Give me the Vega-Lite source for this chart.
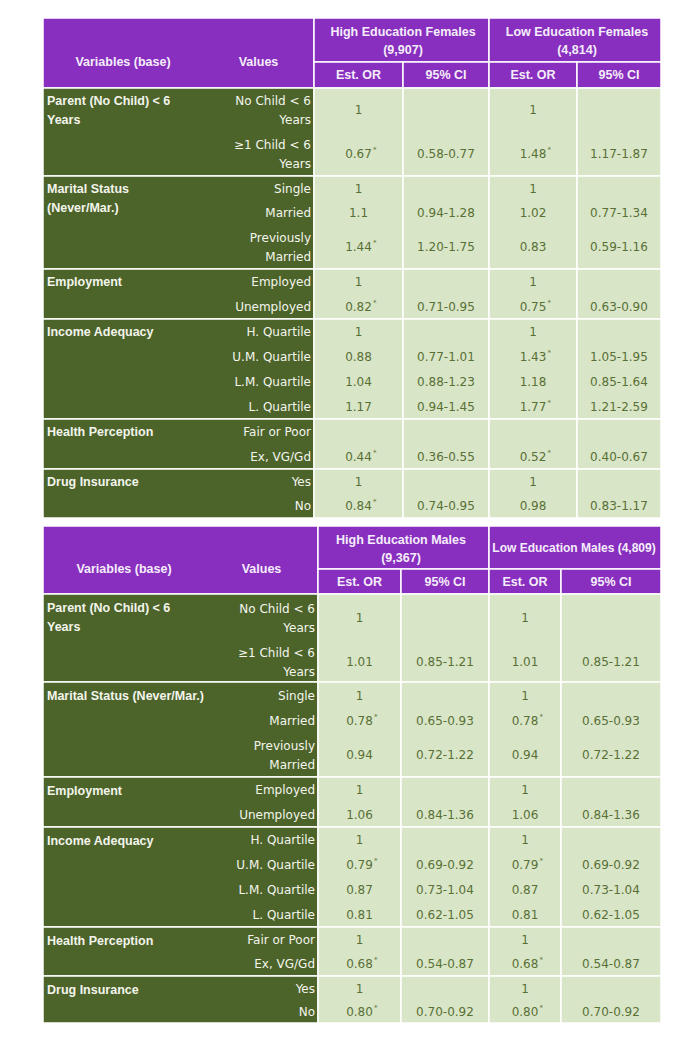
{
  "$schema": "https://vega.github.io/schema/vega-lite/v6.json",
  "background": "#ffffff",
  "padding": {"left": 42, "top": 17, "right": 25, "bottom": 22},
  "spacing": 8,
  "bounds": "flush",
  "config": {"view": {"stroke": null}},
  "datasets": {
    "cells": [
      {"k": "head", "c": 0, "c2": 4, "r": 0, "r2": 4},
      {"k": "head", "c": 4, "c2": 8, "r": 0, "r2": 2},
      {"k": "head", "c": 8, "c2": 12, "r": 0, "r2": 2},
      {"k": "head", "c": 4, "c2": 6, "r": 2, "r2": 4},
      {"k": "head", "c": 6, "c2": 8, "r": 2, "r2": 4},
      {"k": "head", "c": 8, "c2": 10, "r": 2, "r2": 4},
      {"k": "head", "c": 10, "c2": 12, "r": 2, "r2": 4},
      {"k": "label", "c": 0, "c2": 4, "r": 4, "r2": 8},
      {"k": "label", "c": 0, "c2": 4, "r": 8, "r2": 14},
      {"k": "label", "c": 0, "c2": 4, "r": 14, "r2": 18},
      {"k": "label", "c": 0, "c2": 4, "r": 18, "r2": 26},
      {"k": "label", "c": 0, "c2": 4, "r": 26, "r2": 30},
      {"k": "label", "c": 0, "c2": 4, "r": 30, "r2": 34},
      {"k": "body", "c": 4, "c2": 6, "r": 4, "r2": 8},
      {"k": "body", "c": 6, "c2": 8, "r": 4, "r2": 8},
      {"k": "body", "c": 8, "c2": 10, "r": 4, "r2": 8},
      {"k": "body", "c": 10, "c2": 12, "r": 4, "r2": 8},
      {"k": "body", "c": 4, "c2": 6, "r": 8, "r2": 14},
      {"k": "body", "c": 6, "c2": 8, "r": 8, "r2": 14},
      {"k": "body", "c": 8, "c2": 10, "r": 8, "r2": 14},
      {"k": "body", "c": 10, "c2": 12, "r": 8, "r2": 14},
      {"k": "body", "c": 4, "c2": 6, "r": 14, "r2": 18},
      {"k": "body", "c": 6, "c2": 8, "r": 14, "r2": 18},
      {"k": "body", "c": 8, "c2": 10, "r": 14, "r2": 18},
      {"k": "body", "c": 10, "c2": 12, "r": 14, "r2": 18},
      {"k": "body", "c": 4, "c2": 6, "r": 18, "r2": 26},
      {"k": "body", "c": 6, "c2": 8, "r": 18, "r2": 26},
      {"k": "body", "c": 8, "c2": 10, "r": 18, "r2": 26},
      {"k": "body", "c": 10, "c2": 12, "r": 18, "r2": 26},
      {"k": "body", "c": 4, "c2": 6, "r": 26, "r2": 30},
      {"k": "body", "c": 6, "c2": 8, "r": 26, "r2": 30},
      {"k": "body", "c": 8, "c2": 10, "r": 26, "r2": 30},
      {"k": "body", "c": 10, "c2": 12, "r": 26, "r2": 30},
      {"k": "body", "c": 4, "c2": 6, "r": 30, "r2": 34},
      {"k": "body", "c": 6, "c2": 8, "r": 30, "r2": 34},
      {"k": "body", "c": 8, "c2": 10, "r": 30, "r2": 34},
      {"k": "body", "c": 10, "c2": 12, "r": 30, "r2": 34}
    ],
    "vals": [
      {"k": "two", "c": 4, "r": 5, "s": "No Child < 6\nYears"},
      {"k": "two", "c": 4, "r": 7, "s": "≥1 Child < 6\nYears"},
      {"k": "one", "c": 4, "r": 9, "s": "Single"},
      {"k": "one", "c": 4, "r": 11, "s": "Married"},
      {"k": "two", "c": 4, "r": 13, "s": "Previously\nMarried"},
      {"k": "one", "c": 4, "r": 15, "s": "Employed"},
      {"k": "one", "c": 4, "r": 17, "s": "Unemployed"},
      {"k": "one", "c": 4, "r": 19, "s": "H. Quartile"},
      {"k": "one", "c": 4, "r": 21, "s": "U.M. Quartile"},
      {"k": "one", "c": 4, "r": 23, "s": "L.M. Quartile"},
      {"k": "one", "c": 4, "r": 25, "s": "L. Quartile"},
      {"k": "one", "c": 4, "r": 27, "s": "Fair or Poor"},
      {"k": "one", "c": 4, "r": 29, "s": "Ex, VG/Gd"},
      {"k": "one", "c": 4, "r": 31, "s": "Yes"},
      {"k": "one", "c": 4, "r": 33, "s": "No"}
    ],
    "texts": [
      {"t": "F", "k": "head", "c": 1, "r": 2, "s": "Variables (base)"},
      {"t": "F", "k": "head", "c": 3, "r": 2, "s": "Values"},
      {"t": "F", "k": "head2", "c": 6, "r": 1, "s": "High Education Females\n(9,907)"},
      {"t": "F", "k": "head2", "c": 10, "r": 1, "s": "Low Education Females\n(4,814)"},
      {"t": "F", "k": "head", "c": 5, "r": 3, "s": "Est. OR"},
      {"t": "F", "k": "head", "c": 7, "r": 3, "s": "95% CI"},
      {"t": "F", "k": "head", "c": 9, "r": 3, "s": "Est. OR"},
      {"t": "F", "k": "head", "c": 11, "r": 3, "s": "95% CI"},
      {"t": "F", "k": "grp", "c": 0, "r": 4, "s": "Parent (No Child) < 6\nYears"},
      {"t": "F", "k": "grp", "c": 0, "r": 8, "s": "Marital Status\n(Never/Mar.)"},
      {"t": "F", "k": "grp", "c": 0, "r": 14, "s": "Employment"},
      {"t": "F", "k": "grp", "c": 0, "r": 18, "s": "Income Adequacy"},
      {"t": "F", "k": "grp", "c": 0, "r": 26, "s": "Health Perception"},
      {"t": "F", "k": "grp", "c": 0, "r": 30, "s": "Drug Insurance"},
      {"t": "F", "k": "num", "c": 5, "r": 5, "s": "1"},
      {"t": "F", "k": "num", "c": 9, "r": 5, "s": "1"},
      {"t": "F", "k": "num", "c": 5, "r": 7, "s": "0.67", "sig": "*"},
      {"t": "F", "k": "num", "c": 7, "r": 7, "s": "0.58-0.77"},
      {"t": "F", "k": "num", "c": 9, "r": 7, "s": "1.48", "sig": "*"},
      {"t": "F", "k": "num", "c": 11, "r": 7, "s": "1.17-1.87"},
      {"t": "F", "k": "num", "c": 5, "r": 9, "s": "1"},
      {"t": "F", "k": "num", "c": 9, "r": 9, "s": "1"},
      {"t": "F", "k": "num", "c": 5, "r": 11, "s": "1.1"},
      {"t": "F", "k": "num", "c": 7, "r": 11, "s": "0.94-1.28"},
      {"t": "F", "k": "num", "c": 9, "r": 11, "s": "1.02"},
      {"t": "F", "k": "num", "c": 11, "r": 11, "s": "0.77-1.34"},
      {"t": "F", "k": "num", "c": 5, "r": 13, "s": "1.44", "sig": "*"},
      {"t": "F", "k": "num", "c": 7, "r": 13, "s": "1.20-1.75"},
      {"t": "F", "k": "num", "c": 9, "r": 13, "s": "0.83"},
      {"t": "F", "k": "num", "c": 11, "r": 13, "s": "0.59-1.16"},
      {"t": "F", "k": "num", "c": 5, "r": 15, "s": "1"},
      {"t": "F", "k": "num", "c": 9, "r": 15, "s": "1"},
      {"t": "F", "k": "num", "c": 5, "r": 17, "s": "0.82", "sig": "*"},
      {"t": "F", "k": "num", "c": 7, "r": 17, "s": "0.71-0.95"},
      {"t": "F", "k": "num", "c": 9, "r": 17, "s": "0.75", "sig": "*"},
      {"t": "F", "k": "num", "c": 11, "r": 17, "s": "0.63-0.90"},
      {"t": "F", "k": "num", "c": 5, "r": 19, "s": "1"},
      {"t": "F", "k": "num", "c": 9, "r": 19, "s": "1"},
      {"t": "F", "k": "num", "c": 5, "r": 21, "s": "0.88"},
      {"t": "F", "k": "num", "c": 7, "r": 21, "s": "0.77-1.01"},
      {"t": "F", "k": "num", "c": 9, "r": 21, "s": "1.43", "sig": "*"},
      {"t": "F", "k": "num", "c": 11, "r": 21, "s": "1.05-1.95"},
      {"t": "F", "k": "num", "c": 5, "r": 23, "s": "1.04"},
      {"t": "F", "k": "num", "c": 7, "r": 23, "s": "0.88-1.23"},
      {"t": "F", "k": "num", "c": 9, "r": 23, "s": "1.18"},
      {"t": "F", "k": "num", "c": 11, "r": 23, "s": "0.85-1.64"},
      {"t": "F", "k": "num", "c": 5, "r": 25, "s": "1.17"},
      {"t": "F", "k": "num", "c": 7, "r": 25, "s": "0.94-1.45"},
      {"t": "F", "k": "num", "c": 9, "r": 25, "s": "1.77", "sig": "*"},
      {"t": "F", "k": "num", "c": 11, "r": 25, "s": "1.21-2.59"},
      {"t": "F", "k": "num", "c": 5, "r": 29, "s": "0.44", "sig": "*"},
      {"t": "F", "k": "num", "c": 7, "r": 29, "s": "0.36-0.55"},
      {"t": "F", "k": "num", "c": 9, "r": 29, "s": "0.52", "sig": "*"},
      {"t": "F", "k": "num", "c": 11, "r": 29, "s": "0.40-0.67"},
      {"t": "F", "k": "num", "c": 5, "r": 31, "s": "1"},
      {"t": "F", "k": "num", "c": 9, "r": 31, "s": "1"},
      {"t": "F", "k": "num", "c": 5, "r": 33, "s": "0.84", "sig": "*"},
      {"t": "F", "k": "num", "c": 7, "r": 33, "s": "0.74-0.95"},
      {"t": "F", "k": "num", "c": 9, "r": 33, "s": "0.98"},
      {"t": "F", "k": "num", "c": 11, "r": 33, "s": "0.83-1.17"},

      {"t": "M", "k": "head", "c": 1, "r": 2, "s": "Variables (base)"},
      {"t": "M", "k": "head", "c": 3, "r": 2, "s": "Values"},
      {"t": "M", "k": "head2", "c": 6, "r": 1, "s": "High Education Males\n(9,367)"},
      {"t": "M", "k": "headw", "c": 10, "r": 1, "s": "Low Education Males (4,809)"},
      {"t": "M", "k": "head", "c": 5, "r": 3, "s": "Est. OR"},
      {"t": "M", "k": "head", "c": 7, "r": 3, "s": "95% CI"},
      {"t": "M", "k": "head", "c": 9, "r": 3, "s": "Est. OR"},
      {"t": "M", "k": "head", "c": 11, "r": 3, "s": "95% CI"},
      {"t": "M", "k": "grp", "c": 0, "r": 4, "s": "Parent (No Child) < 6\nYears"},
      {"t": "M", "k": "grp", "c": 0, "r": 8, "s": "Marital Status (Never/Mar.)"},
      {"t": "M", "k": "grp", "c": 0, "r": 14, "s": "Employment"},
      {"t": "M", "k": "grp", "c": 0, "r": 18, "s": "Income Adequacy"},
      {"t": "M", "k": "grp", "c": 0, "r": 26, "s": "Health Perception"},
      {"t": "M", "k": "grp", "c": 0, "r": 30, "s": "Drug Insurance"},
      {"t": "M", "k": "num", "c": 5, "r": 5, "s": "1"},
      {"t": "M", "k": "num", "c": 9, "r": 5, "s": "1"},
      {"t": "M", "k": "num", "c": 5, "r": 7, "s": "1.01"},
      {"t": "M", "k": "num", "c": 7, "r": 7, "s": "0.85-1.21"},
      {"t": "M", "k": "num", "c": 9, "r": 7, "s": "1.01"},
      {"t": "M", "k": "num", "c": 11, "r": 7, "s": "0.85-1.21"},
      {"t": "M", "k": "num", "c": 5, "r": 9, "s": "1"},
      {"t": "M", "k": "num", "c": 9, "r": 9, "s": "1"},
      {"t": "M", "k": "num", "c": 5, "r": 11, "s": "0.78", "sig": "*"},
      {"t": "M", "k": "num", "c": 7, "r": 11, "s": "0.65-0.93"},
      {"t": "M", "k": "num", "c": 9, "r": 11, "s": "0.78", "sig": "*"},
      {"t": "M", "k": "num", "c": 11, "r": 11, "s": "0.65-0.93"},
      {"t": "M", "k": "num", "c": 5, "r": 13, "s": "0.94"},
      {"t": "M", "k": "num", "c": 7, "r": 13, "s": "0.72-1.22"},
      {"t": "M", "k": "num", "c": 9, "r": 13, "s": "0.94"},
      {"t": "M", "k": "num", "c": 11, "r": 13, "s": "0.72-1.22"},
      {"t": "M", "k": "num", "c": 5, "r": 15, "s": "1"},
      {"t": "M", "k": "num", "c": 9, "r": 15, "s": "1"},
      {"t": "M", "k": "num", "c": 5, "r": 17, "s": "1.06"},
      {"t": "M", "k": "num", "c": 7, "r": 17, "s": "0.84-1.36"},
      {"t": "M", "k": "num", "c": 9, "r": 17, "s": "1.06"},
      {"t": "M", "k": "num", "c": 11, "r": 17, "s": "0.84-1.36"},
      {"t": "M", "k": "num", "c": 5, "r": 19, "s": "1"},
      {"t": "M", "k": "num", "c": 9, "r": 19, "s": "1"},
      {"t": "M", "k": "num", "c": 5, "r": 21, "s": "0.79", "sig": "*"},
      {"t": "M", "k": "num", "c": 7, "r": 21, "s": "0.69-0.92"},
      {"t": "M", "k": "num", "c": 9, "r": 21, "s": "0.79", "sig": "*"},
      {"t": "M", "k": "num", "c": 11, "r": 21, "s": "0.69-0.92"},
      {"t": "M", "k": "num", "c": 5, "r": 23, "s": "0.87"},
      {"t": "M", "k": "num", "c": 7, "r": 23, "s": "0.73-1.04"},
      {"t": "M", "k": "num", "c": 9, "r": 23, "s": "0.87"},
      {"t": "M", "k": "num", "c": 11, "r": 23, "s": "0.73-1.04"},
      {"t": "M", "k": "num", "c": 5, "r": 25, "s": "0.81"},
      {"t": "M", "k": "num", "c": 7, "r": 25, "s": "0.62-1.05"},
      {"t": "M", "k": "num", "c": 9, "r": 25, "s": "0.81"},
      {"t": "M", "k": "num", "c": 11, "r": 25, "s": "0.62-1.05"},
      {"t": "M", "k": "num", "c": 5, "r": 27, "s": "1"},
      {"t": "M", "k": "num", "c": 9, "r": 27, "s": "1"},
      {"t": "M", "k": "num", "c": 5, "r": 29, "s": "0.68", "sig": "*"},
      {"t": "M", "k": "num", "c": 7, "r": 29, "s": "0.54-0.87"},
      {"t": "M", "k": "num", "c": 9, "r": 29, "s": "0.68", "sig": "*"},
      {"t": "M", "k": "num", "c": 11, "r": 29, "s": "0.54-0.87"},
      {"t": "M", "k": "num", "c": 5, "r": 31, "s": "1"},
      {"t": "M", "k": "num", "c": 9, "r": 31, "s": "1"},
      {"t": "M", "k": "num", "c": 5, "r": 33, "s": "0.80", "sig": "*"},
      {"t": "M", "k": "num", "c": 7, "r": 33, "s": "0.70-0.92"},
      {"t": "M", "k": "num", "c": 9, "r": 33, "s": "0.80", "sig": "*"},
      {"t": "M", "k": "num", "c": 11, "r": 33, "s": "0.70-0.92"}
    ]
  },
  "vconcat": [
    {
      "width": 618,
      "height": 500,
      "encoding": {
        "x": {"field": "c", "type": "quantitative", "axis": null,
              "scale": {"type": "linear", "nice": false, "zero": false, "domain": [0, 2, 4, 6, 8, 10, 12], "range": [0, 160, 271, 360, 446, 534, 618]}},
        "y": {"field": "r", "type": "quantitative", "axis": null,
              "scale": {"type": "linear", "nice": false, "zero": false, "domain": [0, 2, 4, 6, 8, 10, 12, 14, 16, 18, 20, 22, 24, 26, 28, 30, 32, 34], "range": [0, 44, 70, 114, 158, 183, 207, 251, 276, 301, 326, 351, 376, 401, 426, 451, 476, 500]}}
      },
      "layer": [
        {"data": {"name": "cells"},
         "mark": {"type": "rect", "stroke": "#ffffff", "strokeWidth": 1.5},
         "encoding": {"x2": {"field": "c2"}, "y2": {"field": "r2"},
           "color": {"field": "k", "type": "nominal", "legend": null, "scale": {"domain": ["head", "label", "body"], "range": ["#882FBF", "#4C632A", "#D8E5C7"]}}}},
        {"data": {"name": "texts"}, "transform": [{"filter": "datum.t === 'F' && datum.k === 'head'"}],
         "mark": {"type": "text", "font": "Liberation Sans", "fontWeight": "bold", "fontSize": 12.5, "color": "#F5EDFA", "align": "center", "baseline": "middle"},
         "encoding": {"text": {"field": "s"}}},
        {"data": {"name": "texts"}, "transform": [{"filter": "datum.t === 'F' && datum.k === 'head2'"}],
         "mark": {"type": "text", "font": "Liberation Sans", "fontWeight": "bold", "fontSize": 12.5, "color": "#F5EDFA", "align": "center", "baseline": "middle", "dy": -8, "lineBreak": "\n", "lineHeight": 18},
         "encoding": {"text": {"field": "s"}}},
        {"data": {"name": "texts"}, "transform": [{"filter": "datum.t === 'F' && datum.k === 'grp'"}],
         "mark": {"type": "text", "font": "Liberation Sans", "fontWeight": "bold", "fontSize": 12.5, "color": "#F3F5EC", "align": "left", "baseline": "top", "dx": 4, "dy": 7, "lineBreak": "\n", "lineHeight": 19},
         "encoding": {"text": {"field": "s"}}},
        {"data": {"name": "vals"}, "transform": [{"filter": "datum.k === 'one'"}],
         "mark": {"type": "text", "font": "DejaVu Sans", "fontSize": 12, "color": "#F3F5EC", "align": "right", "baseline": "middle", "dx": -3},
         "encoding": {"text": {"field": "s"}}},
        {"data": {"name": "vals"}, "transform": [{"filter": "datum.k === 'two'"}],
         "mark": {"type": "text", "font": "DejaVu Sans", "fontSize": 12, "color": "#F3F5EC", "align": "right", "baseline": "middle", "dx": -3, "dy": -9.5, "lineBreak": "\n", "lineHeight": 19},
         "encoding": {"text": {"field": "s"}}},
        {"data": {"name": "texts"}, "transform": [{"filter": "datum.t === 'F' && datum.k === 'num'"}],
         "mark": {"type": "text", "font": "DejaVu Sans", "fontSize": 12, "color": "#587036", "align": "center", "baseline": "middle"},
         "encoding": {"text": {"field": "s"}}},
        {"data": {"name": "texts"}, "transform": [{"filter": "datum.t === 'F' && datum.sig === '*'"}],
         "mark": {"type": "text", "font": "DejaVu Sans", "fontSize": 7, "color": "#587036", "align": "left", "baseline": "middle", "dx": 14.5, "dy": -4},
         "encoding": {"text": {"field": "sig"}}}
      ]
    },
    {
      "width": 618,
      "height": 497,
      "encoding": {
        "x": {"field": "c", "type": "quantitative", "axis": null,
              "scale": {"type": "linear", "nice": false, "zero": false, "domain": [0, 2, 4, 6, 8, 10, 12], "range": [0, 162, 275, 358, 446, 518, 618]}},
        "y": {"field": "r", "type": "quantitative", "axis": null,
              "scale": {"type": "linear", "nice": false, "zero": false, "domain": [0, 2, 4, 6, 8, 10, 12, 14, 16, 18, 20, 22, 24, 26, 28, 30, 32, 34], "range": [0, 43, 68, 116, 156, 183, 207, 251, 276, 301, 326, 351, 376, 401, 426, 450, 475, 497]}}
      },
      "layer": [
        {"data": {"name": "cells"},
         "mark": {"type": "rect", "stroke": "#ffffff", "strokeWidth": 1.5},
         "encoding": {"x2": {"field": "c2"}, "y2": {"field": "r2"},
           "color": {"field": "k", "type": "nominal", "legend": null, "scale": {"domain": ["head", "label", "body"], "range": ["#882FBF", "#4C632A", "#D8E5C7"]}}}},
        {"data": {"name": "texts"}, "transform": [{"filter": "datum.t === 'M' && datum.k === 'head'"}],
         "mark": {"type": "text", "font": "Liberation Sans", "fontWeight": "bold", "fontSize": 12.5, "color": "#F5EDFA", "align": "center", "baseline": "middle"},
         "encoding": {"text": {"field": "s"}}},
        {"data": {"name": "texts"}, "transform": [{"filter": "datum.t === 'M' && datum.k === 'head2'"}],
         "mark": {"type": "text", "font": "Liberation Sans", "fontWeight": "bold", "fontSize": 12.5, "color": "#F5EDFA", "align": "center", "baseline": "middle", "dy": -8, "lineBreak": "\n", "lineHeight": 18},
         "encoding": {"text": {"field": "s"}}},
        {"data": {"name": "texts"}, "transform": [{"filter": "datum.t === 'M' && datum.k === 'headw'"}],
         "mark": {"type": "text", "font": "Liberation Sans", "fontWeight": "bold", "fontSize": 12, "color": "#F5EDFA", "align": "center", "baseline": "middle", "dx": 13},
         "encoding": {"text": {"field": "s"}}},
        {"data": {"name": "texts"}, "transform": [{"filter": "datum.t === 'M' && datum.k === 'grp'"}],
         "mark": {"type": "text", "font": "Liberation Sans", "fontWeight": "bold", "fontSize": 12.5, "color": "#F3F5EC", "align": "left", "baseline": "top", "dx": 4, "dy": 8, "lineBreak": "\n", "lineHeight": 19},
         "encoding": {"text": {"field": "s"}}},
        {"data": {"name": "vals"}, "transform": [{"filter": "datum.k === 'one'"}],
         "mark": {"type": "text", "font": "DejaVu Sans", "fontSize": 12, "color": "#F3F5EC", "align": "right", "baseline": "middle", "dx": -3},
         "encoding": {"text": {"field": "s"}}},
        {"data": {"name": "vals"}, "transform": [{"filter": "datum.k === 'two'"}],
         "mark": {"type": "text", "font": "DejaVu Sans", "fontSize": 12, "color": "#F3F5EC", "align": "right", "baseline": "middle", "dx": -3, "dy": -9.5, "lineBreak": "\n", "lineHeight": 19},
         "encoding": {"text": {"field": "s"}}},
        {"data": {"name": "texts"}, "transform": [{"filter": "datum.t === 'M' && datum.k === 'num'"}],
         "mark": {"type": "text", "font": "DejaVu Sans", "fontSize": 12, "color": "#587036", "align": "center", "baseline": "middle"},
         "encoding": {"text": {"field": "s"}}},
        {"data": {"name": "texts"}, "transform": [{"filter": "datum.t === 'M' && datum.sig === '*'"}],
         "mark": {"type": "text", "font": "DejaVu Sans", "fontSize": 7, "color": "#587036", "align": "left", "baseline": "middle", "dx": 14.5, "dy": -4},
         "encoding": {"text": {"field": "sig"}}}
      ]
    }
  ]
}
